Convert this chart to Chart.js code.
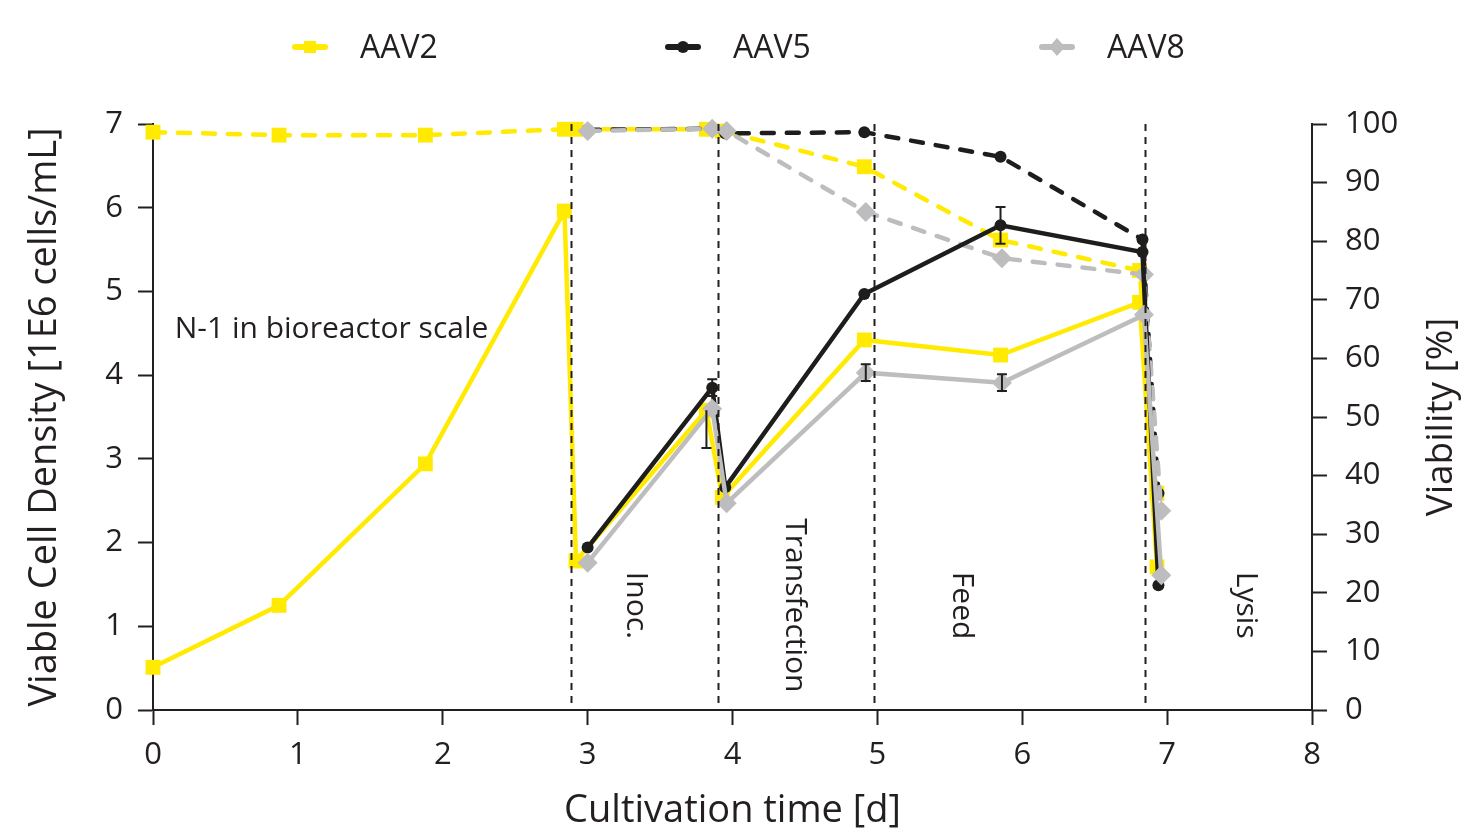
<!DOCTYPE html>
<html><head><meta charset="utf-8">
<script src="https://cdn.jsdelivr.net/npm/chart.js@4.4.1/dist/chart.umd.min.js"></script>
<style>html,body{margin:0;padding:0;background:#fff;}#wrap{width:1462px;height:834px;}</style>
</head><body><div id="wrap"><canvas id="c" width="1462" height="834"></canvas></div>
<script>
// ---------- data ----------
const aav2Days = [0, 0.87, 1.88, 2.84, 2.92, 3.82, 3.93, 4.91, 5.85, 6.81, 6.93];
const aav2Vcd  = [0.51, 1.25, 2.94, 5.96, 1.78, 3.58, 2.54, 4.42, 4.24, 4.87, 1.71];
const aav2Via  = [98.6, 98.1, 98.1, 99.1, 99.1, 99.1, 98.8, 92.7, 80.2, 75.0, 37.0];
const aav2Err  = [null, null, null, null, null, [0.45, 0], null, null, null, null, null];

const aav5Days = [3.0, 3.86, 3.95, 4.91, 5.85, 6.83, 6.94];
const aav5Vcd  = [1.94, 3.85, 2.66, 4.97, 5.79, 5.47, 1.49];
const aav5Via  = [99.0, 99.2, 98.4, 98.6, 94.4, 80.3, 37.0];
const aav5Err  = [null, [0.1, 0.1], null, null, [0.22, 0.22], null, null];

const aav8Days = [3.0, 3.86, 3.96, 4.92, 5.86, 6.84, 6.96];
const aav8Vcd  = [1.76, 3.60, 2.47, 4.03, 3.91, 4.72, 1.61];
const aav8Via  = [98.8, 99.2, 98.8, 85.0, 77.1, 74.3, 34.0];
const aav8Err  = [null, null, null, [0.1, 0.1], [0.1, 0.1], null, null];

const seriesNames = ['AAV2', 'AAV5', 'AAV8'];
const phaseDays   = [2.885, 3.9, 4.98, 6.85];
const phaseLabels = ['Inoc.', 'Transfection', 'Feed', 'Lysis'];
const phaseLabelAt = [[3.33, 1.65], [4.43, 2.29], [5.58, 1.65], [7.54, 1.65]];
const xTicks = [0, 8];
const vcdRange = [0, 7];
const viaRange = [0, 100];

// ---------- style ----------
const INK = '#231f20';
const YEL = '#ffea00';
const BLK = '#1d1d1b';
const GRY = '#bdbdbf';
const FONT = '"Open Sans", Lato, sans-serif';
Chart.defaults.font.family = FONT;
Chart.defaults.color = INK;

const pts = (xs, ys) => xs.map((x, i) => ({x, y: ys[i]}));

function solid(label, xs, ys, color, style, r, order, err) {
  return {label, data: pts(xs, ys), yAxisID: 'y', borderColor: color, backgroundColor: color,
    borderWidth: 4.5, pointStyle: style, pointRadius: r, pointHoverRadius: r, pointBorderWidth: 0,
    tension: 0, fill: false, clip: false, order, errors: err};
}
function dashed(label, xs, ys, color, style, r, order) {
  return {label, data: pts(xs, ys), yAxisID: 'y2', borderColor: color, backgroundColor: color,
    borderWidth: 4.5, borderDash: [12, 13], borderCapStyle: 'round', pointStyle: style, pointRadius: r,
    pointHoverRadius: r, pointBorderWidth: 0, tension: 0, fill: false, clip: false, order};
}

const datasets = [
  dashed(seriesNames[0] + ' viability', aav2Days, aav2Via, YEL, 'rect', 10.5, 6),
  dashed(seriesNames[1] + ' viability', aav5Days, aav5Via, BLK, 'circle', 6, 5),
  dashed(seriesNames[2] + ' viability', aav8Days, aav8Via, GRY, 'rectRot', 10, 4),
  solid(seriesNames[0], aav2Days, aav2Vcd, YEL, 'rect', 10.5, 3, aav2Err),
  solid(seriesNames[1], aav5Days, aav5Vcd, BLK, 'circle', 6, 2, aav5Err),
  solid(seriesNames[2], aav8Days, aav8Vcd, GRY, 'rectRot', 10, 1, aav8Err),
];

const overlay = {
  id: 'overlay',
  afterDatasetsDraw(chart) {
    const ctx = chart.ctx, xs = chart.scales.x, ys = chart.scales.y, ca = chart.chartArea;
    ctx.save();
    // error bars
    ctx.strokeStyle = INK; ctx.lineWidth = 2;
    chart.data.datasets.forEach(ds => {
      if (!ds.errors) return;
      ds.data.forEach((p, i) => {
        const e = ds.errors[i]; if (!e) return;
        const px = xs.getPixelForValue(p.x);
        const lo = ys.getPixelForValue(p.y - e[0]), hi = ys.getPixelForValue(p.y + e[1]);
        ctx.beginPath(); ctx.moveTo(px, lo); ctx.lineTo(px, hi);
        if (e[0] > 0) { ctx.moveTo(px - 5, lo); ctx.lineTo(px + 5, lo); }
        if (e[1] > 0) { ctx.moveTo(px - 5, hi); ctx.lineTo(px + 5, hi); }
        ctx.stroke();
      });
    });
    // phase lines
    ctx.setLineDash([7, 6]); ctx.lineWidth = 2; ctx.strokeStyle = INK;
    phaseDays.forEach(d => {
      const px = Math.round(xs.getPixelForValue(d)) + 0.5;
      ctx.beginPath(); ctx.moveTo(px, ca.top); ctx.lineTo(px, ca.bottom); ctx.stroke();
    });
    ctx.setLineDash([]);
    // phase labels
    ctx.fillStyle = INK; ctx.font = '30px ' + FONT; ctx.textAlign = 'left'; ctx.textBaseline = 'middle';
    phaseLabels.forEach((t, i) => {
      const px = xs.getPixelForValue(phaseLabelAt[i][0]), py = ys.getPixelForValue(phaseLabelAt[i][1]);
      ctx.save(); ctx.translate(px, py); ctx.rotate(Math.PI / 2); ctx.fillText(t, 0, 0); ctx.restore();
    });
    // N-1 label
    ctx.font = '30px ' + FONT;
    ctx.fillText('N-1 in bioreactor scale', xs.getPixelForValue(0.15), ys.getPixelForValue(4.54));
    // right axis title
    ctx.font = '37px ' + FONT; ctx.textAlign = 'center';
    ctx.save(); ctx.translate(1441, (ca.top + ca.bottom) / 2); ctx.rotate(-Math.PI / 2);
    ctx.fillText('Viability [%]', 0, 0); ctx.restore();
    // legend
    const legendX = [310, 683, 1057], legendY = 47;
    const cols = [YEL, BLK, GRY];
    legendX.forEach((cx, i) => {
      ctx.strokeStyle = cols[i]; ctx.fillStyle = cols[i]; ctx.lineWidth = 6; ctx.lineCap = 'round';
      ctx.beginPath(); ctx.moveTo(cx - 15, legendY); ctx.lineTo(cx + 15, legendY); ctx.stroke();
      ctx.beginPath();
      if (i === 0) ctx.rect(cx - 6, legendY - 6, 12, 12);
      else if (i === 1) ctx.arc(cx, legendY, 6, 0, Math.PI * 2);
      else { ctx.moveTo(cx, legendY - 9); ctx.lineTo(cx + 8, legendY); ctx.lineTo(cx, legendY + 9); ctx.lineTo(cx - 8, legendY); ctx.closePath(); }
      ctx.fill();
      ctx.fillStyle = INK; ctx.font = '32px ' + FONT; ctx.textAlign = 'left'; ctx.textBaseline = 'middle';
      ctx.fillText(seriesNames[i], cx + 50, legendY + 2);
    });
    ctx.restore();
  }
};

new Chart(document.getElementById('c'), {
  type: 'line',
  data: {datasets},
  options: {
    responsive: false, animation: false, devicePixelRatio: 1,
    layout: {padding: {top: 124, left: 0, right: 0, bottom: 0}},
    plugins: {legend: {display: false}, tooltip: {enabled: false}},
    scales: {
      x: {type: 'linear', min: xTicks[0], max: xTicks[1],
        ticks: {stepSize: 1, font: {size: 31}, color: INK, padding: 12},
        grid: {drawOnChartArea: false, drawTicks: true, tickLength: 15, tickWidth: 2, tickColor: INK},
        border: {color: INK, width: 2},
        title: {display: true, text: 'Cultivation time [d]', font: {size: 38}, color: INK, padding: {top: 0, bottom: 0}},
        afterFit(s) { s.height = 124; }},
      y: {type: 'linear', position: 'left', min: vcdRange[0], max: vcdRange[1],
        ticks: {stepSize: 1, font: {size: 31}, color: INK, padding: 15},
        grid: {drawOnChartArea: false, drawTicks: true, tickLength: 15, tickWidth: 2, tickColor: INK},
        border: {color: INK, width: 2},
        title: {display: true, text: 'Viable Cell Density [1E6 cells/mL]', font: {size: 38}, color: INK, padding: {top: 22, bottom: 0}},
        afterFit(s) { s.width = 153; }},
      y2: {type: 'linear', position: 'right', min: viaRange[0], max: viaRange[1],
        ticks: {stepSize: 10, font: {size: 31}, color: INK, padding: 18},
        grid: {drawOnChartArea: false, drawTicks: true, tickLength: 15, tickWidth: 2, tickColor: INK},
        border: {color: INK, width: 2},
        title: {display: false},
        afterFit(s) { s.width = 150; }}
    }
  },
  plugins: [overlay]
});
</script></body></html>
